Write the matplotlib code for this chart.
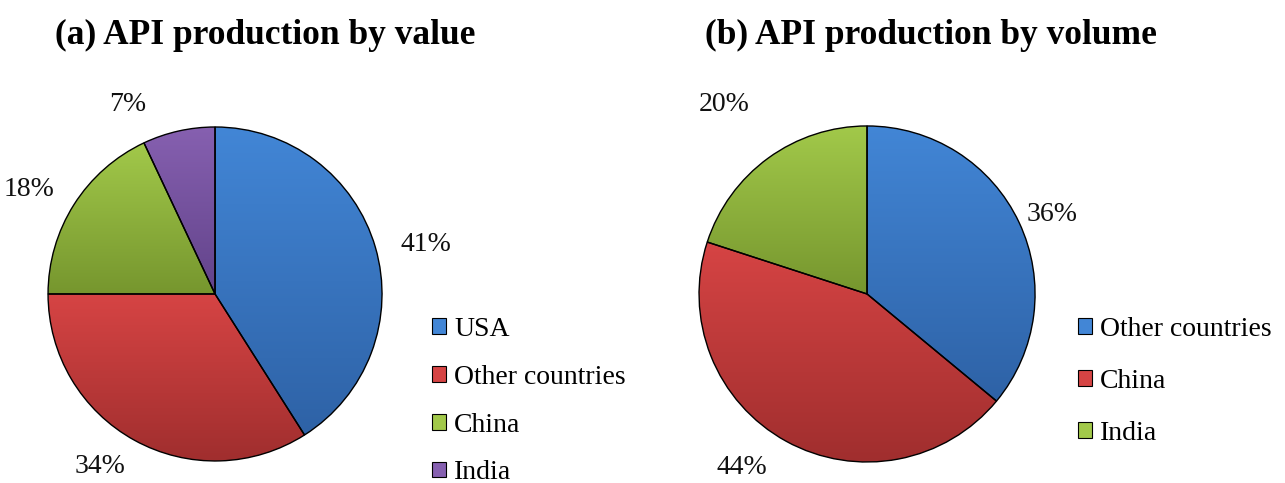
""" api_pies.py """

import numpy as np
import matplotlib
matplotlib.use("Agg")
import matplotlib.pyplot as plt
from matplotlib.colors import LinearSegmentedColormap
from matplotlib.patches import Patch

plt.rcParams['font.family'] = ['Liberation Serif', 'DejaVu Serif']

# (a) API production by value
value_labels = ["USA", "Other countries", "China", "India"]
value_shares = [41, 34, 18, 7]

# (b) API production by volume
volume_labels = ["Other countries", "China", "India"]
volume_shares = [36, 44, 20]

# light top -> dark bottom, per country
shades = {
    "USA": ("#4286d6", "#2e62a6"),
    "Other countries": ("#d64444", "#a02e2e"),
    "China": ("#a2c94a", "#76962e"),
    "India": ("#8660b0", "#62438a"),
}
volume_shades = [shades["USA"], shades["Other countries"], shades["China"]]
value_shades = [shades[k] for k in value_labels]


def gradient_pie(ax, shares, shade_pairs, dists, nudges):
    """Pie drawn clockwise from 12 o'clock, each wedge filled with a vertical gradient."""
    wedges, texts, autotexts = ax.pie(
        shares, startangle=90, counterclock=False, radius=1.0,
        autopct=lambda p: f"{p:.0f}%",
        wedgeprops=dict(edgecolor="black", linewidth=1.0),
        textprops=dict(fontsize=20, color="#111111"))
    grad = np.linspace(0, 1, 256).reshape(-1, 1)
    for w, (top, bot) in zip(wedges, shade_pairs):
        ext = w.get_path().get_extents()
        cmap = LinearSegmentedColormap.from_list("g", [bot, top])
        im = ax.imshow(grad, cmap=cmap, origin="lower", aspect="auto",
                       extent=[ext.x0, ext.x1, ext.y0, ext.y1], zorder=1)
        im.set_clip_path(w)
        w.set_facecolor("none")
        w.set_zorder(3)
    # Excel-style label placement: radial distance + small angular nudge
    for w, t, d, n in zip(wedges, autotexts, dists, nudges):
        ang = np.deg2rad((w.theta1 + w.theta2) / 2 + n)
        t.set_position((d * np.cos(ang), d * np.sin(ang)))
        t.set_clip_on(False)
    ax.set_xlim(-1, 1)
    ax.set_ylim(-1, 1)
    ax.set_aspect("equal")
    ax.axis("off")
    return wedges


fig = plt.figure(figsize=(12.85, 4.83), dpi=100)

ax_a = fig.add_axes([0.0374, 0.0456, 0.2599, 0.6915])
gradient_pie(ax_a, value_shares, value_shades,
             [1.30, 1.24, 1.28, 1.25], [-3, -5, 3, 12])

ax_b = fig.add_axes([0.544, 0.0435, 0.2615, 0.6957])
gradient_pie(ax_b, volume_shares, volume_shades,
             [1.20, 1.27, 1.41], [-2, -7, 1])

fig.text(55 / 1285, 1 - 35 / 483, "(a) API production by value",
         fontsize=25.5, fontweight="bold", va="center", ha="left")
fig.text(705 / 1285, 1 - 35 / 483, "(b) API production by volume",
         fontsize=25.5, fontweight="bold", va="center", ha="left")

handles_a = [Patch(facecolor=tp, edgecolor="black", linewidth=0.8) for tp, _ in value_shades]
handles_b = [Patch(facecolor=tp, edgecolor="black", linewidth=0.8) for tp, _ in volume_shades]

fig.legend(handles_a, value_labels, loc="upper left",
           bbox_to_anchor=(432 / 1285, 1 - 317 / 483), frameon=False,
           fontsize=20, handlelength=0.5, handleheight=0.5, handletextpad=0.3,
           labelspacing=0.82, borderaxespad=0, borderpad=0)
fig.legend(handles_b, volume_labels, loc="upper left",
           bbox_to_anchor=(1078 / 1285, 1 - 317 / 483), frameon=False,
           fontsize=20, handlelength=0.5, handleheight=0.5, handletextpad=0.3,
           labelspacing=0.975, borderaxespad=0, borderpad=0)

fig.savefig("out.png", dpi=100, facecolor="white")
